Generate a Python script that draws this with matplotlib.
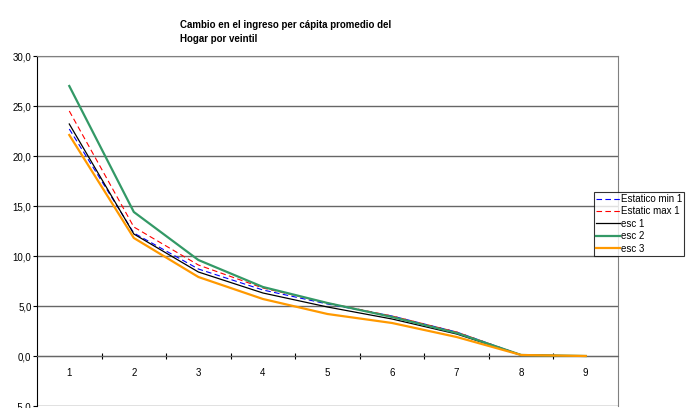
import numpy as np
import matplotlib
matplotlib.use("Agg")
import matplotlib.pyplot as plt

plt.rcParams['font.family'] = ['Liberation Sans', 'DejaVu Sans']

# data
veintil = [1, 2, 3, 4, 5, 6, 7, 8, 9]
estatico_min = [22.7, 12.3, 8.7, 6.6, 5.2, 4.0, 2.4, 0.1, 0.0]
estatic_max = [24.5, 12.9, 9.1, 6.8, 5.3, 4.0, 2.4, 0.1, 0.0]
esc1 = [23.2, 12.2, 8.4, 6.3, 4.9, 3.7, 2.2, 0.1, 0.0]
esc2 = [27.0, 14.4, 9.6, 6.9, 5.3, 3.9, 2.3, 0.1, 0.0]
esc3 = [22.1, 11.8, 7.9, 5.7, 4.2, 3.3, 1.9, 0.1, 0.0]
yticks = [-5, 0, 5, 10, 15, 20, 25, 30]

fig = plt.figure(figsize=(6.91, 4.08), dpi=100)
ax = fig.add_axes([37/691, 1-406/408, (618-37)/691, (406-56)/408])

ax.plot(veintil, estatico_min, color='#0000ff', lw=0.8, ls=(0, (5, 3)), label='Estatico min 1', zorder=3)
ax.plot(veintil, estatic_max, color='#ff0000', lw=0.8, ls=(0, (5, 3)), label='Estatic max 1', zorder=3)
ax.plot(veintil, esc1, color='#000000', lw=0.9, label='esc 1', zorder=3)
ax.plot(veintil, esc2, color='#339966', lw=1.6, label='esc 2', zorder=3)
ax.plot(veintil, esc3, color='#ff9900', lw=1.6, label='esc 3', zorder=3)

ax.set_xlim(0.5, 9.5)
ax.set_ylim(-5, 30)
ax.set_yticks(yticks)
ax.set_yticklabels([f"{v:.1f}".replace('.', ',') for v in yticks], fontsize=7)
for y in yticks:
    ax.axhline(y, color='#666666', lw=1.0, zorder=1)

# x axis crosses at zero, ticks between categories
ax.spines['bottom'].set_position(('data', 0))
ax.spines['bottom'].set_color('#666666')
ax.spines['left'].set_color('black')
ax.spines['right'].set_color('#808080')
ax.spines['top'].set_color('#808080')
ax.set_xticks(np.arange(1.5, 9.5, 1.0))
ax.set_xticklabels([])
ax.tick_params(axis='x', which='major', direction='inout', length=5, color='black')
ax.set_xticks(veintil, minor=True)
ax.set_xticklabels([str(v) for v in veintil], minor=True, fontsize=7)
ax.tick_params(axis='x', which='minor', length=0, pad=9)
ax.tick_params(axis='y', direction='out', length=3, pad=1)

fig.text(180/691, 1-32/408, "Cambio en el ingreso per cápita promedio del\nHogar por veintil",
         fontsize=7, fontweight='bold', ha='left', va='center', linespacing=1.4)

leg = ax.legend(loc='upper left', bbox_to_anchor=(594/691, 1-192/408), bbox_transform=fig.transFigure,
                fontsize=7, frameon=True, fancybox=False, borderpad=0.2, labelspacing=0.25,
                handlelength=2.5, handletextpad=0.1, borderaxespad=0)
leg.get_frame().set_edgecolor('black')
leg.get_frame().set_linewidth(0.8)

fig.savefig("out.png", dpi=100)
